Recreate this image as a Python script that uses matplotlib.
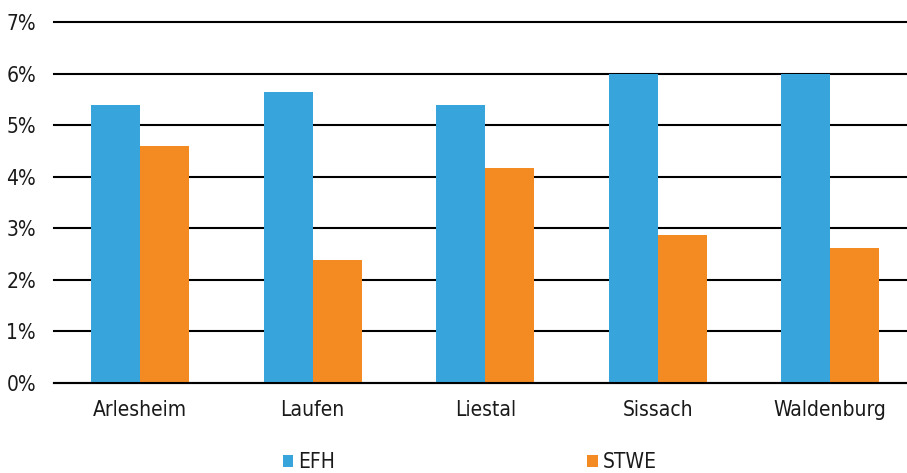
import matplotlib.pyplot as plt
import numpy as np
from matplotlib.ticker import FuncFormatter

plt.rcParams['font.family'] = ['DejaVu Sans']
plt.rcParams['font.stretch'] = 'condensed'

regions = ['Arlesheim', 'Laufen', 'Liestal', 'Sissach', 'Waldenburg']
efh = [5.39, 5.64, 5.39, 6.0, 6.0]
stwe = [4.60, 2.39, 4.17, 2.87, 2.62]

blue = '#37A5DC'
orange = '#F38B22'

fig = plt.figure(figsize=(9.07, 4.73), dpi=100)
ax = fig.add_axes([54 / 907, 90 / 473, 853 / 907, 361 / 473])

x = np.arange(len(regions))
w = 0.285
ax.bar(x - w / 2, efh, w, color=blue, label='EFH')
ax.bar(x + w / 2, stwe, w, color=orange, label='STWE')

ax.set_xlim(-0.5, 4.445)
ax.set_ylim(0, 7)
ax.set_yticks(range(8))
ax.yaxis.set_major_formatter(FuncFormatter(lambda v, p: f'{v:.0f}%'))
ax.set_xticks(x)
ax.set_xticklabels(regions)

ax.set_axisbelow(True)
ax.grid(axis='y', color='black', linewidth=1.5)
ax.grid(axis='x', visible=False)
for gl in ax.get_ygridlines():
    gl.set_clip_on(False)
for s in ['top', 'right', 'left']:
    ax.spines[s].set_visible(False)
ax.spines['bottom'].set_linewidth(1.5)
ax.tick_params(length=0, labelsize=15, colors='#1a1a1a')
ax.tick_params(axis='y', pad=13)
ax.tick_params(axis='x', pad=12)

fig.legend(loc='center', bbox_to_anchor=(470 / 907, 11 / 473), ncol=2,
           frameon=False, fontsize=15, handlelength=0.5, handleheight=0.5,
           handletextpad=0.25, columnspacing=12.1, labelcolor='#1a1a1a')

fig.savefig('out.png', dpi=100)
